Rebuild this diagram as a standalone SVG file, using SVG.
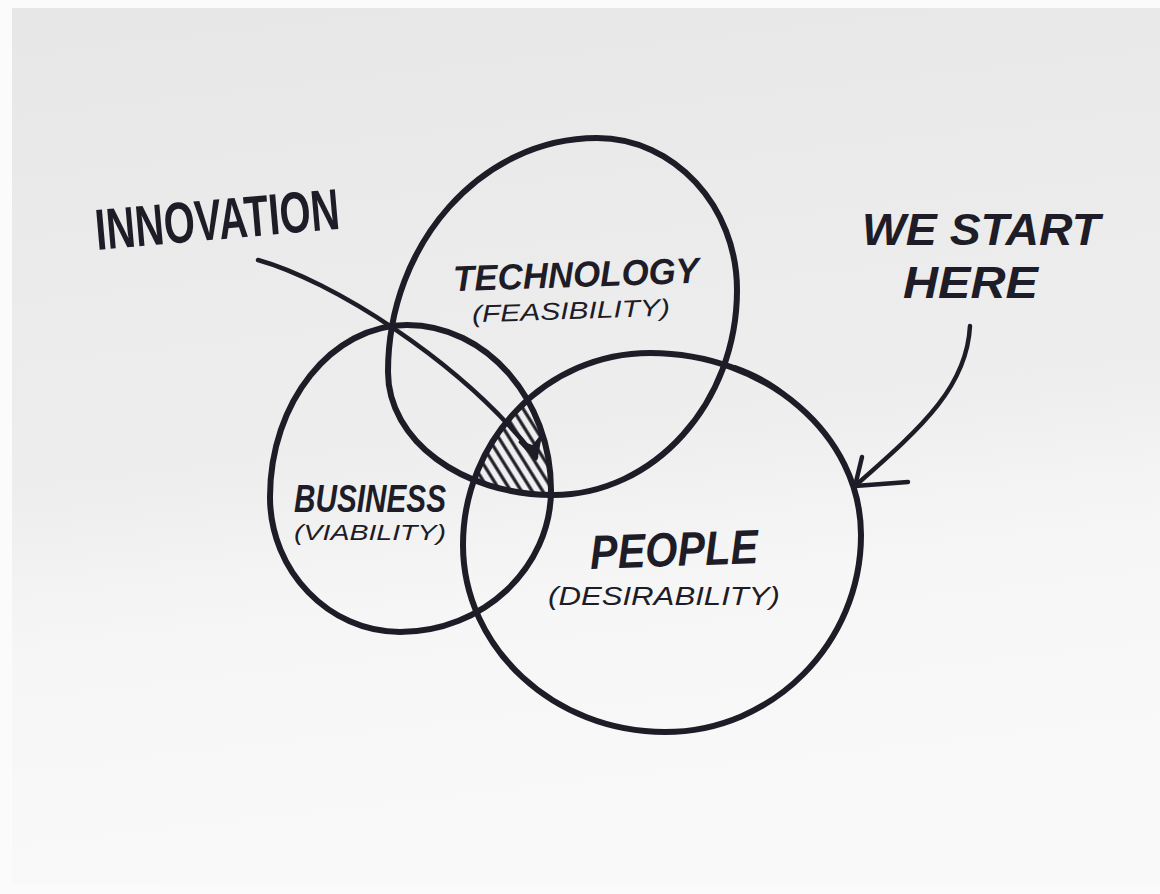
<svg xmlns="http://www.w3.org/2000/svg" width="1160" height="894" viewBox="0 0 1160 894">
  <defs>
    <style>
      .ink { fill: none; stroke: #1e1c26; stroke-linecap: round; stroke-linejoin: round; }
      .ring { stroke-width: 6; }
      .thin { stroke-width: 2; }
      .line { stroke-width: 4.5; }
      .title { font-family: "Liberation Sans", "DejaVu Sans", sans-serif; font-weight: 700; font-style: italic; fill: #1e1c26; }
      .upright { font-style: normal; }
      .sub { font-family: "Liberation Sans", "DejaVu Sans", sans-serif; font-weight: 400; font-style: italic; fill: #1e1c26; }
    </style>
    <linearGradient id="paper" x1="0" y1="0" x2="0.15" y2="1">
      <stop offset="0" stop-color="#e7e7e7"/>
      <stop offset="0.55" stop-color="#eeeeee"/>
      <stop offset="0.72" stop-color="#f6f6f6"/>
      <stop offset="1" stop-color="#f9f9f9"/>
    </linearGradient>
    <pattern id="hatch" width="9" height="9" patternUnits="userSpaceOnUse" patternTransform="rotate(-32)">
      <line x1="2" y1="0" x2="2" y2="9" stroke="#1e1c26" stroke-width="3.2"/>
    </pattern>
    <path id="techShape" d="M597,138 C674,138 737,206 737,290 C737,403 654,495 553,495 C462,495 388,440 388,372 C388,243 482,138 597,138 Z"/>
    <path id="bizShape" d="M407,325 C486,325 551,399 551,490 C551,568 483,632 400,632 C329,632 270,571 270,497 C270,402 332,325 407,325 Z"/>
    <path id="peopleShape" d="M650,353 C766,353 861,435 861,535 C861,643 773,732 665,732 C554,732 463,648 463,545 C463,439 547,353 650,353 Z"/>
    <clipPath id="clipTech"><use href="#techShape"/></clipPath>
    <clipPath id="clipBiz"><use href="#bizShape"/></clipPath>
    <clipPath id="clipPeople"><use href="#peopleShape"/></clipPath>
  </defs>

  <!-- paper -->
  <rect width="1160" height="894" fill="#fbfbfb"/>
  <rect x="12" y="8" width="1148" height="876" fill="url(#paper)"/>

  <!-- shaded overlap of all three sets -->
  <g id="overlap" clip-path="url(#clipPeople)">
    <g clip-path="url(#clipBiz)">
      <rect x="440" y="380" width="140" height="140" fill="url(#hatch)" clip-path="url(#clipTech)"/>
    </g>
  </g>

  <g id="technology">
    <use href="#techShape" class="ink ring"/>
    <path class="ink thin" d="M625,142 C650,146 668,155 676,164"/>
    <text class="title" x="453" y="287" font-size="36" textLength="246" lengthAdjust="spacingAndGlyphs" transform="rotate(-2 576 275)">TECHNOLOGY</text>
    <text class="sub" x="472" y="319" font-size="24" textLength="198" lengthAdjust="spacingAndGlyphs" transform="rotate(-2 571 310)">(FEASIBILITY)</text>
  </g>

  <g id="business">
    <use href="#bizShape" class="ink ring"/>
    <text class="title" x="294" y="512" font-size="38" textLength="152" lengthAdjust="spacingAndGlyphs">BUSINESS</text>
    <text class="sub" x="294" y="540" font-size="22" textLength="152" lengthAdjust="spacingAndGlyphs">(VIABILITY)</text>
  </g>

  <g id="people">
    <use href="#peopleShape" class="ink ring"/>
    <path class="ink thin" d="M735,366 C760,375 778,386 790,398"/>
    <text class="title" x="590" y="566" font-size="48" textLength="168" lengthAdjust="spacingAndGlyphs" transform="rotate(-2 674 550)">PEOPLE</text>
    <text class="sub" x="548" y="605" font-size="26" textLength="232" lengthAdjust="spacingAndGlyphs">(DESIRABILITY)</text>
  </g>

  <g id="innovation">
    <text class="title upright" x="97" y="250" font-size="58" textLength="245" lengthAdjust="spacingAndGlyphs" transform="rotate(-5 97 250)">INNOVATION</text>
  </g>

  <g id="we-start-here">
    <text class="title" x="862" y="245" font-size="44" textLength="238" lengthAdjust="spacingAndGlyphs">WE START</text>
    <text class="title" x="903" y="298" font-size="44" textLength="135" lengthAdjust="spacingAndGlyphs">HERE</text>
  </g>

  <g id="connectors">
    <!-- INNOVATION pointer into the shared region -->
    <path class="ink line" d="M258,260 C330,280 460,360 536,457"/>
    <path d="M520,442 L536,459 L540,438 L533,447 Z" fill="#1e1c26" stroke="#1e1c26" stroke-width="3" stroke-linejoin="round"/>
    <!-- WE START HERE pointer onto PEOPLE -->
    <path class="ink line" d="M970,326 C967,385 925,425 856,485"/>
    <path class="ink line" d="M862,457 L855,486 L908,482"/>
  </g>
</svg>
